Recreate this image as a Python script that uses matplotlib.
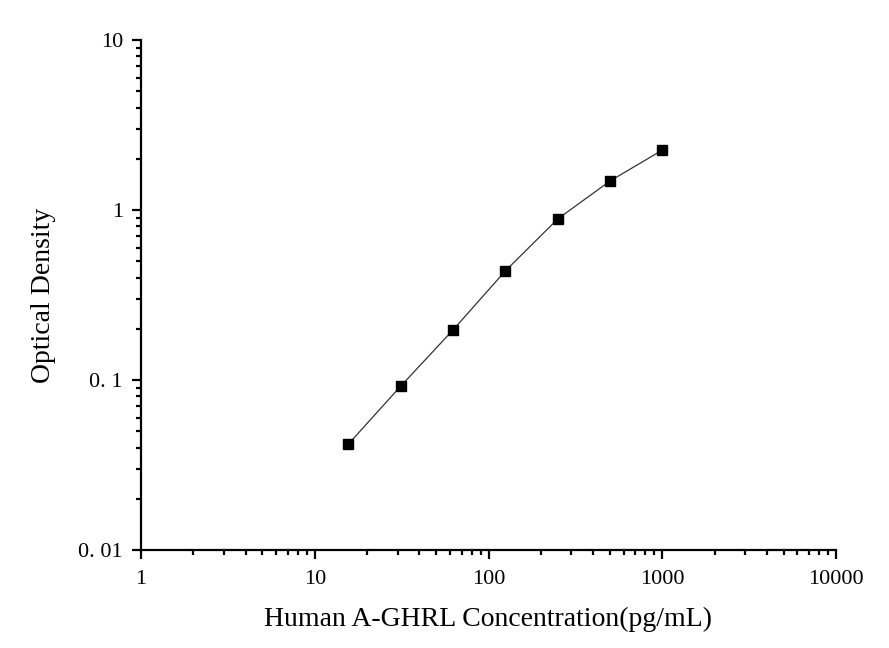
import matplotlib
matplotlib.use("Agg")
import matplotlib.pyplot as plt
from matplotlib.ticker import LogLocator, FixedLocator, FixedFormatter, NullFormatter

conc = [15.625, 31.25, 62.5, 125, 250, 500, 1000]
od = [0.042, 0.092, 0.197, 0.438, 0.885, 1.48, 2.25]
x_ticks = [1, 10, 100, 1000, 10000]
x_labels = ["1", "10", "100", "1000", "10000"]
y_ticks = [0.01, 0.1, 1, 10]
y_labels = ["0. 01", "0. 1", "1", "10"]

plt.rcParams['font.family'] = ['Liberation Serif', 'DejaVu Serif']

fig = plt.figure(figsize=(8.89, 6.48), dpi=100)
ax = fig.add_axes([141/889, 1-550/648, (836-141)/889, (550-40)/648])
ax.plot(conc, od, color='#333333', linewidth=0.9, marker='s', markersize=7.5,
        markerfacecolor='black', markeredgecolor='black')
ax.set_xscale('log')
ax.set_yscale('log')
ax.set_xlim(1, 10000)
ax.set_ylim(0.01, 10)
ax.spines['top'].set_visible(False)
ax.spines['right'].set_visible(False)
for s in ['left', 'bottom']:
    ax.spines[s].set_linewidth(1.6)
ax.xaxis.set_major_locator(FixedLocator(x_ticks))
ax.xaxis.set_major_formatter(FixedFormatter(x_labels))
ax.yaxis.set_major_locator(FixedLocator(y_ticks))
ax.yaxis.set_major_formatter(FixedFormatter(y_labels))
ax.xaxis.set_minor_locator(LogLocator(base=10, subs=range(2, 10)))
ax.yaxis.set_minor_locator(LogLocator(base=10, subs=range(2, 10)))
ax.xaxis.set_minor_formatter(NullFormatter())
ax.yaxis.set_minor_formatter(NullFormatter())
ax.tick_params(which='major', direction='out', length=6.5, width=1.6, labelsize=16)
ax.tick_params(axis='x', which='major', pad=8)
ax.tick_params(axis='y', which='major', pad=6.5)
ax.tick_params(which='minor', direction='out', length=3.5, width=1.6)
ax.set_xlabel('Human A-GHRL Concentration(pg/mL)', fontsize=20, labelpad=13)
ax.set_ylabel('Optical Density', fontsize=20, labelpad=16)
fig.savefig('out.png', dpi=100)
